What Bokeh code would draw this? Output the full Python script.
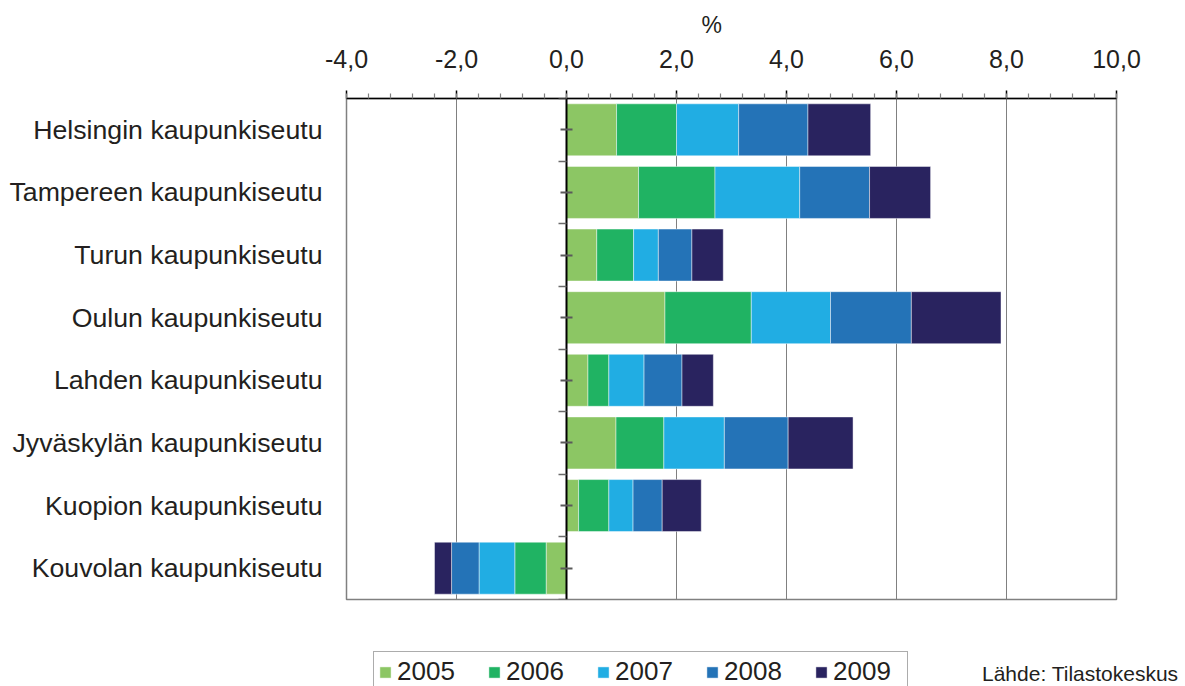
from bokeh.plotting import figure
from bokeh.models import (Range1d, FactorRange, LinearAxis, SingleIntervalTicker, FixedTicker,
                          CustomJSTickFormatter, Legend, LegendItem, Label, Title, ColumnDataSource)
from bokeh.embed import file_html
from bokeh.resources import INLINE

# ---- data ----
regions = ["Helsingin kaupunkiseutu", "Tampereen kaupunkiseutu", "Turun kaupunkiseutu",
           "Oulun kaupunkiseutu", "Lahden kaupunkiseutu", "Jyväskylän kaupunkiseutu",
           "Kuopion kaupunkiseutu", "Kouvolan kaupunkiseutu"]
years = ["2005", "2006", "2007", "2008", "2009"]
v2005 = [0.91, 1.31, 0.55, 1.79, 0.39, 0.90, 0.22, -0.37]
v2006 = [1.09, 1.39, 0.67, 1.57, 0.38, 0.87, 0.55, -0.57]
v2007 = [1.13, 1.54, 0.45, 1.44, 0.64, 1.10, 0.44, -0.65]
v2008 = [1.26, 1.27, 0.61, 1.47, 0.69, 1.16, 0.53, -0.50]
v2009 = [1.14, 1.11, 0.57, 1.63, 0.57, 1.18, 0.71, -0.31]
x_tick_interval = 2
colors = ["#8cc664", "#20b363", "#21ade3", "#2473b7", "#29235f"]

source = ColumnDataSource(dict(region=regions, **{"2005": v2005, "2006": v2006, "2007": v2007,
                                                  "2008": v2008, "2009": v2009}))

FONT = "Liberation Sans"
TXT = "#231f20"

p = figure(width=1185, height=646, output_backend="svg", toolbar_location=None,
           x_range=Range1d(-4, 10), y_range=FactorRange(factors=list(reversed(regions))),
           x_axis_location="above",
           min_border_left=346, min_border_right=69, min_border_top=98, min_border_bottom=47)
p.background_fill_color = "white"
p.border_fill_color = "white"
p.outline_line_color = "#808080"
p.outline_line_width = 1.5

renderers = p.hbar_stack(years, y="region", height=0.83, fill_color=colors,
                         line_color="white", line_alpha=0.45, line_width=1, source=source)

# top x axis
xa = p.xaxis[0]
xa.ticker = SingleIntervalTicker(interval=x_tick_interval, num_minor_ticks=5)
xa.formatter = CustomJSTickFormatter(code="return tick.toFixed(1).replace('.', ',');")
xa.major_label_text_font = FONT
xa.major_label_text_font_size = "25px"
xa.major_label_text_color = TXT
xa.major_label_standoff = 23
xa.axis_line_color = "black"
xa.axis_line_width = 1.5
xa.major_tick_out = 8
xa.major_tick_in = 0
xa.major_tick_line_color = "black"
xa.major_tick_line_width = 1.5
xa.minor_tick_out = 5
xa.minor_tick_in = 0
xa.minor_tick_line_color = "#808080"
xa.minor_tick_line_width = 1.2

p.xgrid.grid_line_color = "#808080"
p.xgrid.grid_line_width = 1
p.ygrid.visible = False

# "%" unit title above the axis
p.add_layout(Title(text="%", align="left", offset=355, standoff=17,
                   text_font=FONT, text_font_size="23px", text_font_style="normal",
                   text_color=TXT), "above")

# category labels
ya = p.yaxis[0]
ya.axis_line_color = None
ya.major_tick_line_color = None
ya.major_tick_out = 0
ya.major_tick_in = 0
ya.major_label_standoff = 24
ya.major_label_text_font = FONT
ya.major_label_text_font_size = "26.7px"
ya.major_label_text_color = TXT

# zero axis line with ticks
n = len(regions)
zaxis = LinearAxis(fixed_location=0,
                   ticker=FixedTicker(ticks=[i + 0.5 for i in range(n)],
                                      minor_ticks=list(range(n + 1))),
                   formatter=CustomJSTickFormatter(code="return '';"),
                   major_label_text_font_size="0px",
                   axis_line_color="black", axis_line_width=2,
                   major_tick_in=6, major_tick_out=6,
                   major_tick_line_color="#5a5a5a", major_tick_line_width=2,
                   minor_tick_in=8, minor_tick_out=0,
                   minor_tick_line_color="#6a6a6a", minor_tick_line_width=1.5)
p.add_layout(zaxis, "right")

# ---- legend row: a separate root so that nothing is clipped by the chart frame ----
p2 = figure(width=1185, height=40, output_backend="svg", toolbar_location=None,
            x_range=Range1d(0, 1), y_range=FactorRange(factors=list(reversed(regions))),
            min_border=0, min_border_left=0, min_border_right=0,
            min_border_top=0, min_border_bottom=0)
p2.axis.visible = False
p2.grid.visible = False
p2.outline_line_color = None
p2.background_fill_color = "white"
p2.border_fill_color = "white"
legend_renderers = p2.hbar_stack(years, y="region", height=0.83, fill_color=colors,
                                 line_color="white", line_alpha=0.45, line_width=1,
                                 source=source, visible=False)
legend = Legend(items=[LegendItem(label=y, renderers=[r]) for y, r in zip(years, legend_renderers)],
                orientation="horizontal", location=(373, -6),
                glyph_width=14, glyph_height=14, label_standoff=5, label_width=70,
                spacing=20, padding=4, margin=0,
                inactive_fill_alpha=0,
                border_line_color="#595959", border_line_width=1.5,
                background_fill_color="white", background_fill_alpha=1,
                label_text_font=FONT, label_text_font_size="26px", label_text_color=TXT)
p2.add_layout(legend, "center")
p2.add_layout(Label(x=1178, y=13, x_units="screen", y_units="screen", text="Lähde: Tilastokeskus",
                    text_align="right", text_baseline="middle",
                    text_font=FONT, text_font_size="21px", text_color=TXT))

open("out.html", "w").write(file_html([p, p2], INLINE))
